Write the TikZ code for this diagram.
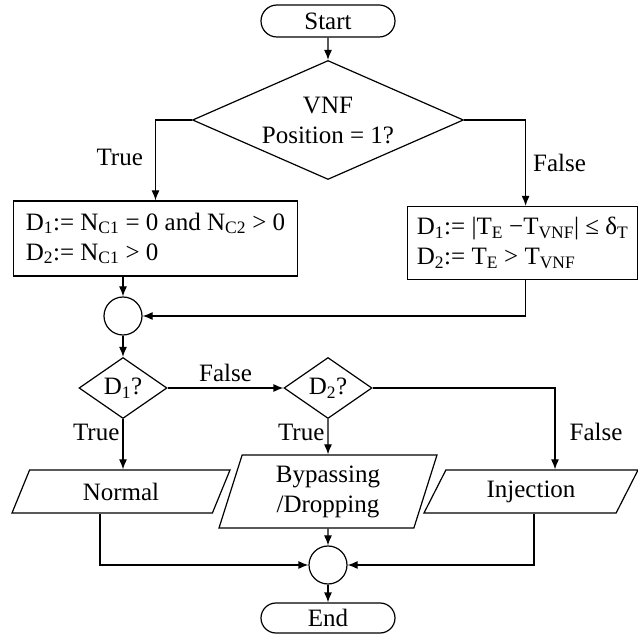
\documentclass[tikz,border=0pt]{standalone}
\usepackage{fontspec}
\setmainfont{Liberation Serif}
\usetikzlibrary{shapes.geometric,shapes.misc,arrows.meta}

\tikzset{
  term/.style={draw,rounded rectangle,minimum width=134,minimum height=32,inner sep=0},
  decision/.style={draw,diamond,align=center,inner sep=0},
  process/.style={draw,rectangle,align=left,minimum height=75,inner xsep=12,inner ysep=0},
  io/.style={draw,trapezium,trapezium stretches body,align=center,inner sep=0},
  junction/.style={draw,circle,minimum size=38,inner sep=0},
}

\begin{document}
\begin{tikzpicture}[x=1pt,y=-1pt,line width=1.2pt,
    font=\fontsize{25}{30}\selectfont,>={Latex[length=10pt,width=8pt]}]
    \useasboundingbox (0,0) rectangle (638,636);

    \node[term] (start) at (328,21) {Start};
    \node[decision,shape aspect=2.28,minimum width=271,minimum height=119]
        (pos) at (328,120) {VNF\\Position = 1?};
    \node[process] (setA) at (155.5,238.5)
        {D\textsubscript{1}:= N\textsubscript{C1} = 0 and N\textsubscript{C2} > 0\\
         D\textsubscript{2}:= N\textsubscript{C1} > 0};
    \node[process,anchor=west,inner xsep=3,minimum width=230,minimum height=73] (setB) at (407,243)
        {D\textsubscript{1}:= |T\textsubscript{E} −T\textsubscript{VNF}| ≤ δ\textsubscript{T}\\
         D\textsubscript{2}:= T\textsubscript{E} > T\textsubscript{VNF}};
    \node[junction] (joinA) at (123,316) {};
    \node[decision,shape aspect=1.44,minimum width=88,minimum height=61]
        (dA) at (123,388) {D\textsubscript{1}?};
    \node[decision,shape aspect=1.44,minimum width=88,minimum height=61]
        (dB) at (328,388) {D\textsubscript{2}?};
    \node[io,trapezium left angle=45,trapezium right angle=135,
        minimum width=218,minimum height=43] (normal) at (121,491.5) {Normal};
    \node[io,trapezium left angle=66,trapezium right angle=114,
        minimum width=218,minimum height=73] (bypass) at (328,491.5) {Bypassing\\/Dropping};
    \node[io,trapezium left angle=45,trapezium right angle=135,
        minimum width=214,minimum height=43] (inject) at (531,491.5) {Injection};
    \node[junction] (joinB) at (328,565) {};
    \node[term,minimum height=30] (end) at (328,618) {End};

    % upper part
    \draw[->] (start) -- (pos);
    \draw[->] (pos.west) -| node[pos=0.735,left,inner sep=12] {True} (setA.north);
    \draw[->] (pos.east) -| node[pos=0.75,right,inner sep=7] {False} ([xshift=3pt]setB.north);
    \draw[->] (setA.south -| joinA) -- (joinA);
    \draw[->] ([xshift=3pt]setB.south) |- (joinA);
    \draw[->] (joinA) -- (dA);

    % decisions
    \draw[->] (dA) -- node[above,inner sep=6] {False} (dB);
    \draw[->] (dA.south) -- node[pos=0.27,left,inner sep=3] {True} (dA.south |- normal.north);
    \draw[->] (dB.south) -- node[pos=0.38,left,inner sep=3] {True} (bypass.north);
    \draw[->] (dB.east) -| node[pos=0.77,right,inner sep=14] {False} ([xshift=24pt]inject.north);

    % merge
    \draw[->] (bypass) -- (joinB);
    \draw[->] ([xshift=-21pt]normal.south) |- (joinB);
    \draw[->] ([xshift=3pt]inject.south) |- (joinB);
    \draw[->] (joinB) -- (end);
\end{tikzpicture}
\end{document}
